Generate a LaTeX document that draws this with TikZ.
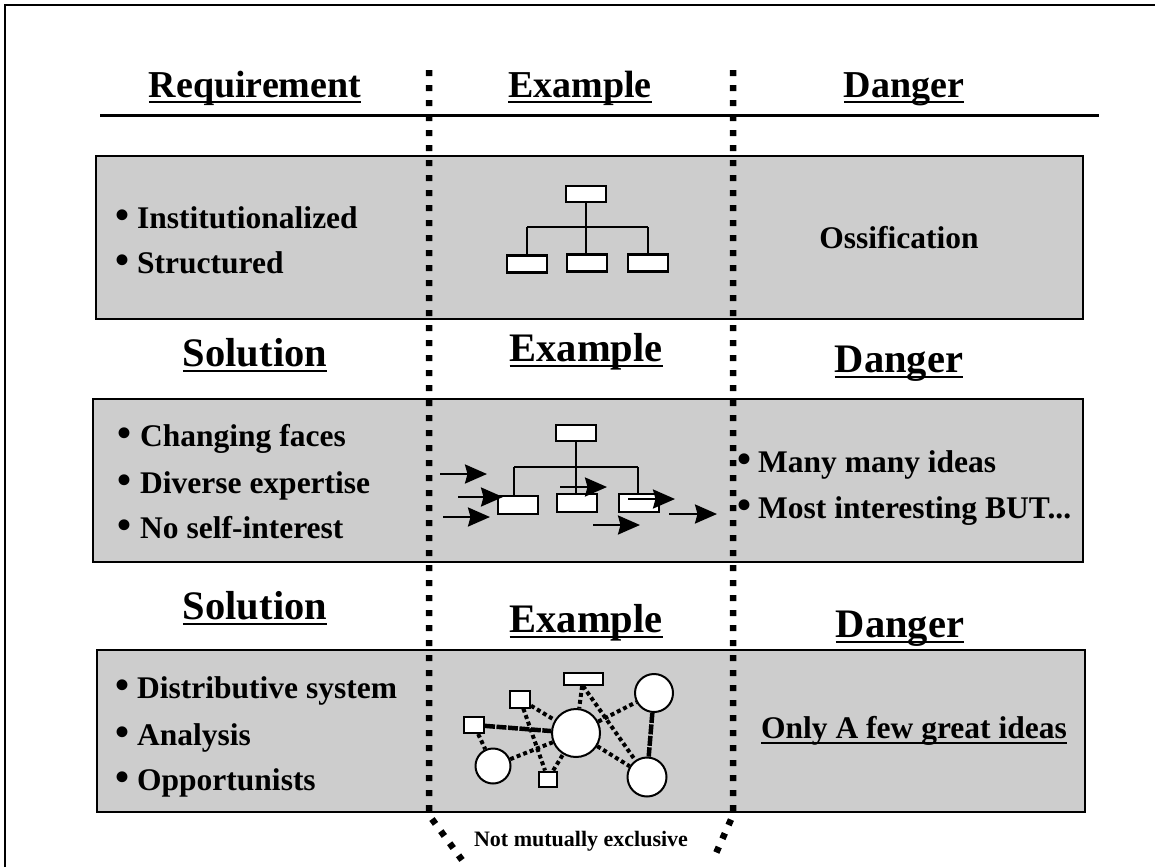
\documentclass[tikz,border=0pt]{standalone}
\usepackage{fontspec}
\setmainfont{Liberation Serif}
\usetikzlibrary{arrows.meta}

\definecolor{panelgray}{RGB}{205,205,205}

% underlined heading text
\newcommand{\ulword}[1]{\setbox0\hbox{#1}\rlap{\rule[-6pt]{\wd0}{2.5pt}}\box0}
% larger bullet
\newcommand{\bul}{{\fontsize{40}{40}\selectfont\textbullet}}

\tikzset{
	head/.style={font=\fontsize{38}{42}\selectfont\bfseries, inner sep=0pt, anchor=base},
	bighead/.style={font=\fontsize{40.5}{45}\selectfont\bfseries, inner sep=0pt, anchor=base},
	item/.style={font=\fontsize{31.5}{36}\selectfont\bfseries, inner sep=0pt, anchor=base west},
	panel/.style={draw=black, line width=2.5pt, fill=panelgray},
	colline/.style={line width=6.5pt, dash pattern=on 6pt off 9pt},
	orgbox/.style={draw, line width=2.6pt, fill=white, minimum width=40pt, minimum height=17pt, inner sep=0pt},
	orgline/.style={line width=2.2pt},
	flow/.style={line width=2.5pt, -{Stealth[length=22pt, width=19pt, inset=2.5pt]}},
	netbox/.style={draw, line width=2pt, fill=white, inner sep=0pt},
	netdot/.style={draw, circle, line width=2pt, fill=white, inner sep=0pt},
	weak/.style={line width=4pt, dash pattern=on 4pt off 3pt},
	strong/.style={line width=4.5pt, dash pattern=on 10pt off 1.5pt}
}

\begin{document}
\begin{tikzpicture}[x=1pt, y=-1pt]
	\useasboundingbox (0,0) rectangle (1155,867);
	\draw [line width=2pt] (5,867) -- (5,5) -- (1155,5);
	\draw [line width=3pt] (100,115) -- (1099,115);
	
	\node[head] (req) at (255,97)		{\ulword{Requirement}};
	\node[head] (ex1) at (580,97)		{\ulword{Example}};
	\node[head] (dan1) at (904,97)		{\ulword{Danger}};
	
	\draw [panel] (96,156) rectangle (1083,319);
	\draw [panel] (93,399) rectangle (1083,562);
	\draw [panel] (97,650) rectangle (1085,812);
	
	\node[bighead] (sol2) at (255,366)	{\ulword{Solution}};
	\node[bighead] (ex2) at (586,361)	{\ulword{Example}};
	\node[bighead] (dan2) at (899,372)	{\ulword{Danger}};
	
	\node[bighead] (sol3) at (255,619)	{\ulword{Solution}};
	\node[bighead] (ex3) at (586,632)	{\ulword{Example}};
	\node[bighead] (dan3) at (900,637)	{\ulword{Danger}};
	
	% first panel
	\node[item] (inst) at (115,228)	{\bul\hspace{8pt}Institutionalized};
	\node[item] (stru) at (115,273)	{\bul\hspace{8pt}Structured};
	\node[item, anchor=base] (ossi) at (899,248)	{Ossification};
	
	\node[orgbox, minimum height=16pt] (top1) at (586,194)	{};
	\node[orgbox] (left1) at (527,264)	{};
	\node[orgbox] (mid1) at (587,263)	{};
	\node[orgbox] (right1) at (648,263)	{};
	\coordinate (jl1) at (527,227);
	\coordinate (jm1) at (586,227);
	\coordinate (jr1) at (648,227);
	
	\path [orgline] (top1) edge (jm1);
	\path [orgline] (jl1) edge (jr1);
	\path [orgline] (jl1) edge (left1.north);
	\path [orgline] (jm1) edge (jm1 |- mid1.north);
	\path [orgline] (jr1) edge (right1.north);
	
	% second panel
	\node[item] (chan) at (117.5,446)	{\bul\hspace{8.5pt}Changing faces};
	\node[item] (dive) at (117.5,493)	{\bul\hspace{8.5pt}Diverse expertise};
	\node[item] (self) at (117.5,538)	{\bul\hspace{8.5pt}No self-interest};
	\node[item] (many) at (737,472)	{\bul\hspace{7pt}Many many ideas};
	\node[item] (most) at (737,518)	{\bul\hspace{7pt}Most interesting BUT...};
	
	\node[orgbox, minimum height=16pt] (top2) at (576,433)	{};
	\node[orgbox, minimum height=18pt] (left2) at (518,505)	{};
	\node[orgbox, minimum height=18pt] (mid2) at (577,503)	{};
	\node[orgbox, minimum height=18pt] (right2) at (639,503)	{};
	\coordinate (jl2) at (514,467);
	\coordinate (jm2) at (576,467);
	\coordinate (jr2) at (638,467);
	
	\path [orgline] (top2) edge (jm2 |- mid2.north);
	\path [orgline] (jl2) edge (jr2);
	\path [orgline] (jl2) edge (jl2 |- left2.north);
	\path [orgline] (jr2) edge (jr2 |- right2.north);
	
	\coordinate (f1a) at (440,474);	\coordinate (f1b) at (487,474);
	\coordinate (f2a) at (458,497);	\coordinate (f2b) at (503,497);
	\coordinate (f3a) at (443,517);	\coordinate (f3b) at (490,517);
	\coordinate (f4a) at (560,487);	\coordinate (f4b) at (607,487);
	\coordinate (f5a) at (628,499);	\coordinate (f5b) at (675,499);
	\coordinate (f6a) at (593,525);	\coordinate (f6b) at (640,525);
	\coordinate (f7a) at (669,514);	\coordinate (f7b) at (717,514);
	
	\path [flow] (f1a) edge (f1b);
	\path [flow] (f2a) edge (f2b);
	\path [flow] (f3a) edge (f3b);
	\path [flow] (f4a) edge (f4b);
	\path [flow] (f5a) edge (f5b);
	\path [flow] (f6a) edge (f6b);
	\path [flow] (f7a) edge (f7b);
	
	% third panel
	\node[item] (dist) at (115,698)	{\bul\hspace{8pt}Distributive system};
	\node[item] (anal) at (115,745)	{\bul\hspace{8pt}Analysis};
	\node[item] (oppo) at (115,790)	{\bul\hspace{8pt}Opportunists};
	\node[item, anchor=base] (only) at (914,738)	{\ulword{Only A few great ideas}};
	
	\node[netbox, minimum width=20pt, minimum height=16pt] (na) at (474,725)	{};
	\node[netbox, minimum width=20pt, minimum height=17pt] (nb) at (520,699)	{};
	\node[netbox, minimum width=39pt, minimum height=12pt] (nc) at (583,679)	{};
	\node[netbox, minimum width=18pt, minimum height=15pt] (nd) at (548,779)	{};
	\node[netdot, minimum size=48pt] (ne) at (576,733)	{};
	\node[netdot, minimum size=35pt] (nf) at (493,766)	{};
	\node[netdot, minimum size=38pt] (ng) at (654,693)	{};
	\node[netdot, minimum size=39pt] (nh) at (647,777)	{};
	
	\path [strong] (na) edge (ne);
	\path [weak] (na) edge (nf);
	\path [weak] (nb) edge (ne);
	\path [weak] (nb) edge (nd);
	\path [weak] (nc) edge (ne);
	\path [weak] (nc.south) edge (nh);
	\path [weak] (nf) edge (ne);
	\path [weak] (nd) edge (ne);
	\path [weak] (ne) edge (ng);
	\path [weak] (ne) edge (nh);
	\path [strong] (ng) edge (nh);
	
	% columns
	\coordinate (lt) at (429,70);
	\coordinate (lb) at (429,815);
	\coordinate (lf) at (462,860);
	\coordinate (rt) at (733,70);
	\coordinate (rb) at (733,815);
	\coordinate (rf) at (713,860);
	\draw [colline] (lt) -- (lb) -- (lf);
	\draw [colline] (rt) -- (rb) -- (rf);
	
	\node[font=\fontsize{22}{26}\selectfont\bfseries, inner sep=0pt, anchor=base] (note) at (581,846)	{Not mutually exclusive};
\end{tikzpicture}
\end{document}
